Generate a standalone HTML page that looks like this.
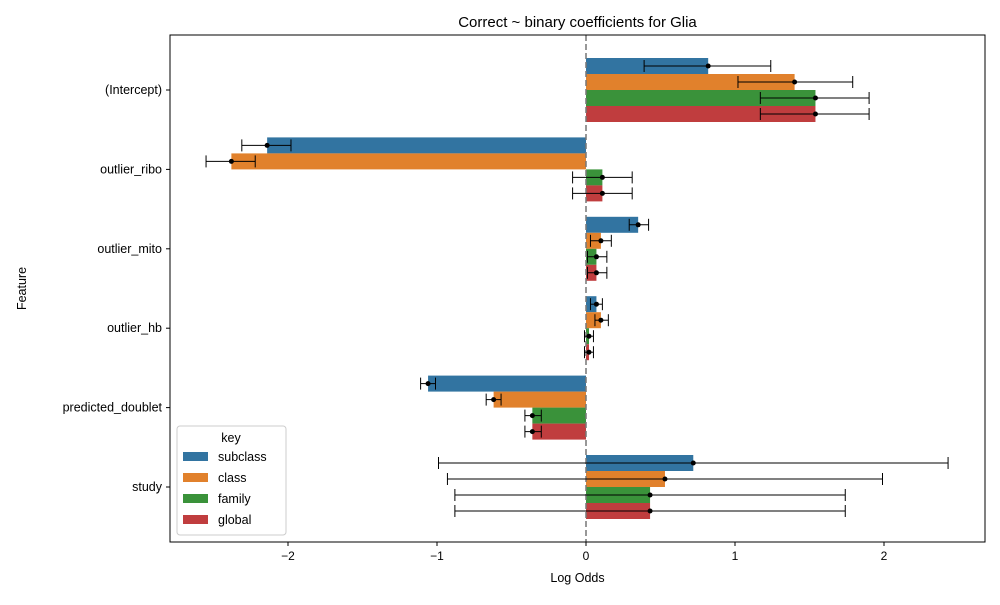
<!DOCTYPE html>
<html><head><meta charset="utf-8"><style>
body{margin:0;background:#fff;font-family:"Liberation Sans","DejaVu Sans",sans-serif;}
</style></head><body>
<svg id="chart" width="1000" height="600" xmlns="http://www.w3.org/2000/svg" font-family="Liberation Sans, DejaVu Sans, sans-serif"></svg>
<script>
const categories=["(Intercept)","outlier_ribo","outlier_mito","outlier_hb","predicted_doublet","study"];
const seriesNames=["subclass","class","family","global"];
const colors=["#3274a1","#e1812c","#3a923a","#c03d3e"];
const subclassVals=[0.82,-2.14,0.35,0.07,-1.06,0.72];
const subclassLo=[0.39,-2.31,0.29,0.03,-1.11,-0.99];
const subclassHi=[1.24,-1.98,0.42,0.11,-1.01,2.43];
const classVals=[1.40,-2.38,0.10,0.10,-0.62,0.53];
const classLo=[1.02,-2.55,0.03,0.06,-0.67,-0.93];
const classHi=[1.79,-2.22,0.17,0.15,-0.57,1.99];
const familyVals=[1.54,0.11,0.07,0.02,-0.36,0.43];
const familyLo=[1.17,-0.09,0.01,-0.01,-0.41,-0.88];
const familyHi=[1.90,0.31,0.14,0.05,-0.30,1.74];
const globalVals=[1.54,0.11,0.07,0.02,-0.36,0.43];
const globalLo=[1.17,-0.09,0.01,-0.01,-0.41,-0.88];
const globalHi=[1.90,0.31,0.14,0.05,-0.30,1.74];
const xTicks=[-2,-1,0,1,2];
const xTickLabels=["\u22122","\u22121","0","1","2"];

const vals=[subclassVals,classVals,familyVals,globalVals];
const los=[subclassLo,classLo,familyLo,globalLo];
const his=[subclassHi,classHi,familyHi,globalHi];
const L=170,R=985,T=35,B=542;
const xs=v=>586+v*149;
const band=79.4;
const yc=i=>90+band*i;
const bh=16;
const svg=document.getElementById('chart');
const NS="http://www.w3.org/2000/svg";
function mk(tag,attrs,parent){const e=document.createElementNS(NS,tag);for(const k in attrs)e.setAttribute(k,attrs[k]);(parent||svg).appendChild(e);return e;}
function txt(s,attrs){const e=mk('text',attrs);e.textContent=s;return e;}

const bars=mk('g',{});


categories.forEach((c,i)=>{
  seriesNames.forEach((s,j)=>{
    const y=yc(i)-2*bh+j*bh;
    const v=vals[j][i];
    const r=mk('rect',{x:Math.min(xs(0),xs(v)),y:y,width:Math.abs(xs(v)-xs(0)),height:bh,fill:colors[j]},bars);
    
    
  });
});
mk('line',{x1:xs(0),x2:xs(0),y1:T,y2:B,stroke:'#777','stroke-width':1.5,'stroke-dasharray':'6,3'});
const errs=mk('g',{});


categories.forEach((c,i)=>{
  seriesNames.forEach((s,j)=>{
    const y=yc(i)-2*bh+j*bh+bh/2;
    const a=xs(los[j][i]),b=xs(his[j][i]);
    mk('line',{x1:a,x2:b,y1:y,y2:y,stroke:'#000','stroke-width':1},errs);
    mk('line',{x1:a,x2:a,y1:y-6,y2:y+6,stroke:'#000','stroke-width':1},errs);
    mk('line',{x1:b,x2:b,y1:y-6,y2:y+6,stroke:'#000','stroke-width':1},errs);
    const d=mk('circle',{cx:xs(vals[j][i]),cy:y,r:2.5,fill:'#000'},errs);
    
    
  });
});
mk('rect',{x:L,y:T,width:R-L,height:B-T,fill:'none',stroke:'#000','stroke-width':1});
xTicks.forEach((t,k)=>{
  mk('line',{x1:xs(t),x2:xs(t),y1:B,y2:B+4,stroke:'#000'});
  const e=txt(xTickLabels[k],{x:xs(t),y:B+18,'font-size':12,'text-anchor':'middle'});
  
  
});
categories.forEach((c,i)=>{
  mk('line',{x1:L-4,x2:L,y1:yc(i),y2:yc(i),stroke:'#000'});
  const e=txt(c,{x:L-8,y:yc(i)+4,'font-size':12.5,'text-anchor':'end'});
  
  
});
let e=txt('Log Odds',{x:(L+R)/2,y:582,'font-size':12.5,'text-anchor':'middle'});

e=txt('Feature',{x:26,y:(T+B)/2,'font-size':12.5,'text-anchor':'middle',transform:'rotate(-90 26 '+((T+B)/2)+')'});

e=txt('Correct ~ binary coefficients for Glia',{x:(L+R)/2,y:27,'font-size':15,'text-anchor':'middle'});

const lg=mk('g',{});


mk('rect',{x:177,y:426,width:109,height:109,rx:3,fill:'#fff','fill-opacity':0.8,stroke:'#ccc'},lg);
const lt=mk('text',{x:231,y:442,'font-size':12.5,'text-anchor':'middle'},lg);lt.textContent='key';
seriesNames.forEach((s,j)=>{
  const y=452+j*21;
  mk('rect',{x:183,y:y,width:25,height:9,fill:colors[j]},lg);
  const t=mk('text',{x:218,y:y+9,'font-size':12.5},lg);t.textContent=s;
  
  
});
</script>
</body></html>
